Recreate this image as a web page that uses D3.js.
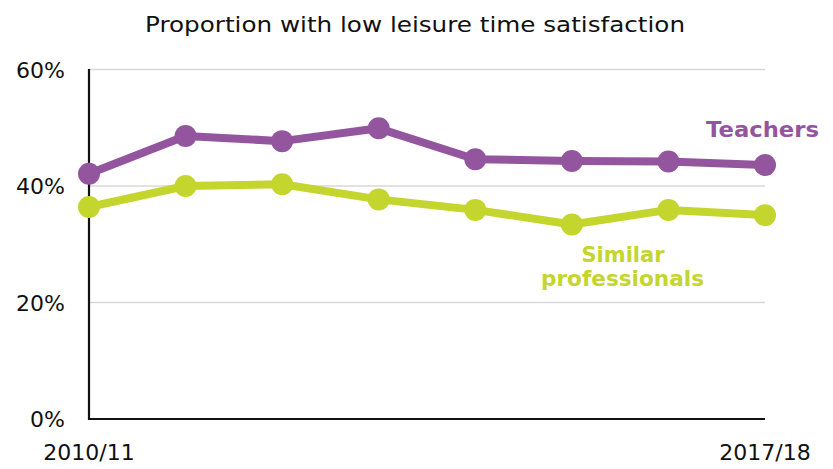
<!DOCTYPE html>
<html>
<head>
<meta charset="utf-8">
<script src="https://cdn.jsdelivr.net/npm/d3@7"></script>
<style>
body { margin: 0; background: #fff; }
text { font-family: "DejaVu Sans", sans-serif; }
</style>
</head>
<body>
<script>
var years = ["2010/11","2011/12","2012/13","2013/14","2014/15","2015/16","2016/17","2017/18"];
var teachers = [42.1, 48.6, 47.7, 49.9, 44.6, 44.3, 44.2, 43.6];
var similar = [36.4, 40.0, 40.3, 37.7, 35.9, 33.4, 35.9, 35.0];
var yTicks = [0, 20, 40, 60];
var xTickLabels = ["2010/11", "2017/18"];

var purple = "#93559e", green = "#c4d52e";

var svg = d3.select("body").append("svg")
    .attr("width", 833).attr("height", 469);

var x = d3.scalePoint().domain(years).range([89, 765]);
var y = d3.scaleLinear().domain([0, 60]).range([419, 69.5]);

svg.append("text")
    .attr("x", 415).attr("y", 32)
    .attr("text-anchor", "middle")
    .attr("textLength", 540).attr("lengthAdjust", "spacingAndGlyphs")
    .style("font-size", "22px").style("fill", "#111")
    .text("Proportion with low leisure time satisfaction");

// gridlines
svg.append("g").selectAll("line")
    .data(yTicks.filter(function(d){ return d > 0; }))
    .enter().append("line")
    .attr("x1", 89).attr("x2", 765)
    .attr("y1", function(d){ return y(d); })
    .attr("y2", function(d){ return y(d); })
    .style("stroke", "#d9d9d9").style("stroke-width", 1.5);

// y tick labels
svg.append("g").selectAll("text")
    .data(yTicks)
    .enter().append("text")
    .attr("x", 65)
    .attr("y", function(d){ return y(d) + 8; })
    .attr("text-anchor", "end")
    .style("font-size", "22px").style("fill", "#111")
    .text(function(d){ return d + "%"; });

// axes lines
svg.append("line")
    .attr("x1", 89).attr("x2", 89).attr("y1", 69).attr("y2", 420)
    .style("stroke", "#111").style("stroke-width", 2.2);
svg.append("line")
    .attr("x1", 88).attr("x2", 765).attr("y1", 419).attr("y2", 419)
    .style("stroke", "#111").style("stroke-width", 2.2);

// x labels
svg.append("g").selectAll("text")
    .data(xTickLabels)
    .enter().append("text")
    .attr("x", function(d){ return x(d); })
    .attr("y", 460)
    .attr("text-anchor", "middle")
    .style("font-size", "22px").style("fill", "#111")
    .text(function(d){ return d; });

var line = d3.line()
    .x(function(d, i){ return x(years[i]); })
    .y(function(d){ return y(d); });

var series = [{vals: similar, color: green}, {vals: teachers, color: purple}];
series.forEach(function(s){
    svg.append("path")
        .datum(s.vals)
        .attr("d", line)
        .style("fill", "none")
        .style("stroke", s.color)
        .style("stroke-width", 8)
        .style("stroke-linejoin", "round");
    svg.append("g").selectAll("circle")
        .data(s.vals)
        .enter().append("circle")
        .attr("cx", function(d, i){ return x(years[i]); })
        .attr("cy", function(d){ return y(d); })
        .attr("r", 11)
        .style("fill", s.color);
});

svg.append("text")
    .attr("x", 762.5).attr("y", 137)
    .attr("text-anchor", "middle")
    .attr("textLength", 113).attr("lengthAdjust", "spacingAndGlyphs")
    .style("font-size", "22px").style("font-weight", "bold").style("fill", purple)
    .text("Teachers");

svg.append("text")
    .attr("x", 623).attr("y", 262)
    .attr("text-anchor", "middle")
    .attr("textLength", 83).attr("lengthAdjust", "spacingAndGlyphs")
    .style("font-size", "22px").style("font-weight", "bold").style("fill", green)
    .text("Similar");
svg.append("text")
    .attr("x", 622.5).attr("y", 286)
    .attr("text-anchor", "middle")
    .attr("textLength", 163).attr("lengthAdjust", "spacingAndGlyphs")
    .style("font-size", "22px").style("font-weight", "bold").style("fill", green)
    .text("professionals");
</script>
</body>
</html>
